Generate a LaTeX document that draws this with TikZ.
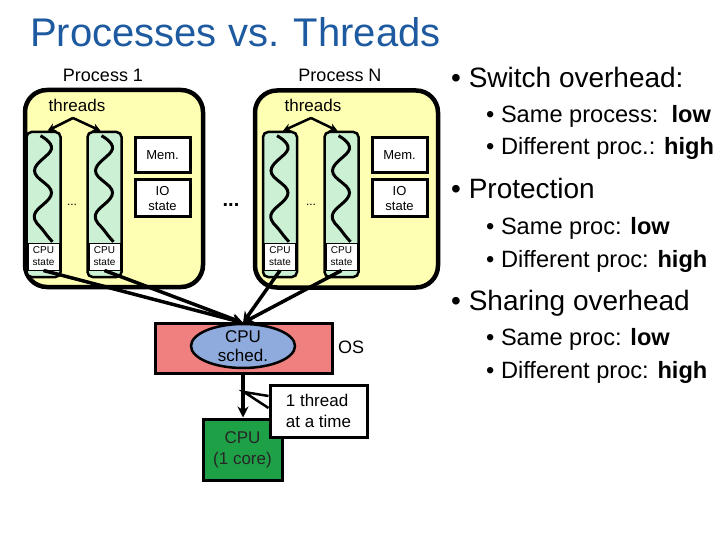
\documentclass[tikz,border=0pt]{standalone}
\usepackage{fontspec}
\setmainfont{Liberation Sans}
\usetikzlibrary{shapes.geometric,arrows.meta,calc}
\definecolor{yel}{RGB}{255,255,180}
\definecolor{mint}{RGB}{204,240,212}
\definecolor{salmon}{RGB}{240,128,128}
\definecolor{schedblue}{RGB}{143,170,220}
\definecolor{cpugreen}{RGB}{30,160,70}
\definecolor{titleblue}{RGB}{30,90,160}
\tikzset{
  procbox/.style={draw, line width=4.5pt, rounded corners=22pt, fill=yel, inner sep=0pt},
  threadcol/.style={draw, line width=2.5pt, rounded corners=5pt, fill=mint, inner sep=0pt, minimum width=34pt, minimum height=145pt},
  cpust/.style={draw, line width=1pt, fill=white, inner sep=0pt, minimum width=31pt, minimum height=27pt, align=center, font=\fontsize{10}{12}\selectfont},
  membox/.style={draw, line width=3pt, fill=white, inner sep=0pt, minimum width=55pt, align=center, font=\fontsize{13}{15}\selectfont},
  wave/.style={line width=3pt},
  tharrow/.style={line width=2.5pt, -{Stealth[length=8pt,width=8pt]}},
  bigarrow/.style={line width=3.5pt, -{Stealth[length=11pt,width=11pt]}},
  lbl/.style={inner sep=0pt},
  mainb/.style={anchor=base west, inner sep=0pt, font=\fontsize{28}{30}\selectfont},
  subb/.style={anchor=base west, inner sep=0pt, font=\fontsize{23.6}{25}\selectfont},
}
\newcommand\mywave[1]{\draw[wave, shift={(#1.north)}] plot[smooth, tension=0.7] coordinates {(-3,5) (8,18) (-9,40) (8,62) (-9,84) (0,100) (9,111)};}
\begin{document}
\begin{tikzpicture}[x=1pt,y=-1pt]
\useasboundingbox (0,0) rectangle (720,540);
% title
\node[anchor=base west, inner sep=0pt, text=titleblue, font=\fontsize{40}{44}\selectfont] (title) at (30,47) {Processes vs. Threads};
% process boxes
\node[procbox, minimum width=178pt, minimum height=197pt] (P1) at (114,188.5) {};
\node[procbox, minimum width=183pt, minimum height=197pt] (PN) at (346.5,189) {};
\node[lbl, font=\fontsize{18}{20}\selectfont] (P1lbl) at (103,75) {Process 1};
\node[lbl, font=\fontsize{18}{20}\selectfont] (PNlbl) at (340,75) {Process N};
% thread columns
\node[threadcol] (a1) at (43.5,204.5) {};
\node[threadcol] (a2) at (104.5,204.5) {};
\node[threadcol] (b1) at (280,204.5) {};
\node[threadcol] (b2) at (341.5,204.5) {};
\mywave{a1}\mywave{a2}\mywave{b1}\mywave{b2}
\node[cpust] (sa1) at (43.5,256.5) {CPU\\state};
\node[cpust] (sa2) at (104.5,256.5) {CPU\\state};
\node[cpust] (sb1) at (280,256.5) {CPU\\state};
\node[cpust] (sb2) at (341.5,256.5) {CPU\\state};
% mem / io
\node[membox, minimum height=35pt] (m1) at (162.5,155.5) {Mem.};
\node[membox, minimum height=37pt] (io1) at (162.5,198.5) {IO\\state};
\node[membox, minimum height=35pt] (mN) at (399.5,155.5) {Mem.};
\node[membox, minimum height=37pt] (ioN) at (399.5,198.5) {IO\\state};
% dots
\node[lbl, font=\fontsize{12}{12}\selectfont] (d1) at (72,205) {...};
\node[lbl, font=\fontsize{12}{12}\selectfont] (d2) at (311,205) {...};
\node[lbl, font=\bfseries\fontsize{20}{20}\selectfont] (dd) at (231,205) {...};
% threads labels and arrows
\node[lbl, font=\fontsize{17}{19}\selectfont] (th1) at (77,105) {threads};
\node[lbl, font=\fontsize{17}{19}\selectfont] (thN) at (313,105) {threads};
\coordinate (t1) at (73,118);
\coordinate (tN) at (311,118);
\draw[tharrow] (t1) -- ([xshift=4pt]a1.north);
\draw[tharrow] (t1) -- ([xshift=-4pt]a2.north);
\draw[tharrow] (tN) -- ([xshift=3pt]b1.north);
\draw[tharrow] (tN) -- ([xshift=-4pt]b2.north);
% OS
\node[draw, line width=3pt, fill=salmon, minimum width=177pt, minimum height=50pt, inner sep=0pt] (os) at (243.5,348) {};
\node[draw, line width=2.5pt, fill=schedblue, ellipse, minimum width=104pt, minimum height=44pt, inner sep=0pt, align=center, font=\fontsize{17}{19}\selectfont] (sched) at (243,346) {CPU\\sched.};
\node[lbl, font=\fontsize{18}{20}\selectfont] (oslbl) at (351,347) {OS};
\draw[bigarrow] (sa1.south) -- (sched.north);
\draw[bigarrow] (sa2.south) -- (sched.north);
\draw[bigarrow] (sb1.south) -- (sched.north);
\draw[bigarrow] (sb2.south) -- (sched.north);
% CPU
\node[draw, line width=3pt, fill=cpugreen, minimum width=79pt, minimum height=61pt, inner sep=0pt, align=center, font=\fontsize{17}{21}\selectfont, text=black!85] (cpu) at (242.5,449.5) {CPU\\(1 core)};
\draw[bigarrow] (os.south -| sched.south) -- (cpu.north -| sched.south);
% callout
\node[draw, line width=3pt, fill=white, minimum width=97pt, minimum height=52pt, inner sep=0pt, align=left, font=\fontsize{17}{21}\selectfont] (note) at (318.5,411) {1 thread\\at a time};
\coordinate (tip) at (244,392);
\filldraw[fill=white, line width=2.5pt] ([yshift=15pt]note.west) -- (tip) -- ([yshift=3pt]note.west);
% right text
\node[mainb] (r1) at (451,88) {• Switch overhead:};
\node[subb] (r2) at (486,123) {• Same process:\ \ \textbf{low}};
\node[subb] (r3) at (486,155) {• Different proc.: \textbf{high}};
\node[mainb] (r4) at (451,199) {• Protection};
\node[subb] (r5) at (486,234) {• Same proc: \textbf{low}};
\node[subb] (r6) at (486,267) {• Different proc: \textbf{high}};
\node[mainb] (r7) at (451,310) {• Sharing overhead};
\node[subb] (r8) at (486,345) {• Same proc: \textbf{low}};
\node[subb] (r9) at (486,378) {• Different proc: \textbf{high}};
\end{tikzpicture}
\end{document}
